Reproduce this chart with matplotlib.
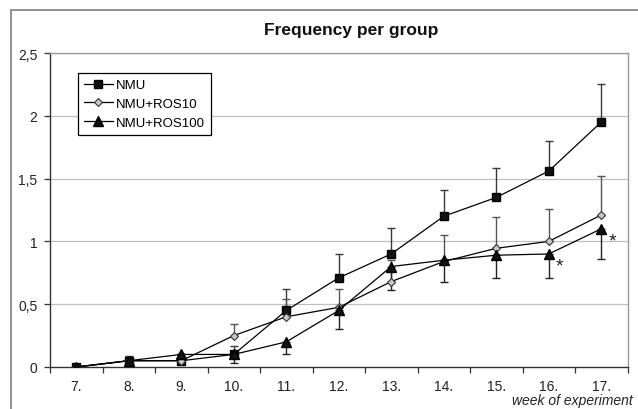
import matplotlib
matplotlib.use("Agg")
import matplotlib.pyplot as plt
from matplotlib.patches import Rectangle

plt.rcParams['font.family'] = ['Liberation Sans', 'DejaVu Sans']

weeks = ["7.", "8.", "9.", "10.", "11.", "12.", "13.", "14.", "15.", "16.", "17."]
nmu = [0.0, 0.05, 0.05, 0.10, 0.45, 0.71, 0.90, 1.20, 1.35, 1.56, 1.95]
ros10 = [0.0, 0.05, 0.05, 0.25, 0.40, 0.475, 0.68, 0.84, 0.945, 1.0, 1.21]
ros100 = [0.0, 0.05, 0.10, 0.10, 0.20, 0.45, 0.80, 0.85, 0.89, 0.90, 1.10]

nmu_err_up = [0.0, 0.035, 0.0, 0.065, 0.17, 0.19, 0.21, 0.21, 0.235, 0.24, 0.30]
ros10_err_up = [0.0, 0.0, 0.0, 0.09, 0.14, 0.15, 0.17, 0.21, 0.25, 0.26, 0.31]
ros100_err_dn = [0.0, 0.035, 0.0, 0.065, 0.10, 0.15, 0.19, 0.17, 0.18, 0.19, 0.24]

star_weeks = [9, 10]  # indices of weeks 16. and 17.
y_ticks = [0, 0.5, 1, 1.5, 2, 2.5]
y_labels = ["0", "0,5", "1", "1,5", "2", "2,5"]

W, H = 638, 410
fig = plt.figure(figsize=(W / 100, H / 100), dpi=100)

# outer chart frame (cropped on right and bottom)
fig.patches.append(Rectangle((11 / W, -0.05), 1.2, 1 - 11 / H + 0.05,
                             transform=fig.transFigure, fill=False,
                             edgecolor='#7f7f7f', linewidth=1.2))

ax = fig.add_axes([50 / W, 42 / H, 577.5 / W, 314 / H])
x = list(range(len(weeks)))

for v in y_ticks[1:]:
    ax.axhline(v, color='#c0c0c0', linewidth=0.9, zorder=0)

zero = [0] * len(weeks)
ax.errorbar(x, nmu, yerr=[zero, nmu_err_up], fmt='none', ecolor='#3a3a3a',
            elinewidth=1.0, capsize=3, capthick=1.0, zorder=2)
ax.errorbar(x, ros10, yerr=[zero, ros10_err_up], fmt='none', ecolor='#555555',
            elinewidth=1.0, capsize=3, capthick=1.0, zorder=2)
ax.errorbar(x, ros100, yerr=[ros100_err_dn, zero], fmt='none', ecolor='#222222',
            elinewidth=1.0, capsize=3, capthick=1.0, zorder=2)

ax.plot(x, nmu, color='black', linewidth=0.9, marker='s', markersize=5.5,
        markerfacecolor='#111111', markeredgecolor='black', label='NMU', zorder=4)
ax.plot(x, ros10, color='black', linewidth=0.9, marker='D', markersize=4.5,
        markerfacecolor='#c8c8c8', markeredgecolor='#333333', markeredgewidth=0.8,
        label='NMU+ROS10', zorder=4)
ax.plot(x, ros100, color='black', linewidth=0.9, marker='^', markersize=6.5,
        markerfacecolor='#111111', markeredgecolor='black', label='NMU+ROS100', zorder=4)

for i in star_weeks:
    ax.annotate('*', (x[i], ros100[i]), xytext=(5, -15), textcoords='offset points',
                fontsize=14, color='#222222', ha='left', va='bottom')

ax.set_xlim(-0.5, len(weeks) - 0.5)
ax.set_ylim(0, 2.5)
ax.set_xticks(x)
ax.set_xticklabels(weeks, fontsize=10, color='#222222')
ax.set_xticks([i - 0.5 for i in range(len(weeks) + 1)], minor=True)
ax.tick_params(axis='x', which='major', length=0, pad=9)
ax.tick_params(axis='x', which='minor', length=4, width=0.9, color='#333333')
ax.set_yticks(y_ticks)
ax.set_yticklabels(y_labels, fontsize=10, color='#222222')
ax.tick_params(axis='y', length=4, width=0.9, color='#333333', pad=5)

for s in ['left', 'bottom']:
    ax.spines[s].set_color('#333333')
    ax.spines[s].set_linewidth(1.0)
for s in ['top', 'right']:
    ax.spines[s].set_color('#9a9a9a')
    ax.spines[s].set_linewidth(1.0)

leg = ax.legend(loc='upper left', bbox_to_anchor=(28 / 577.5, (368 - 74) / 314),
                borderaxespad=0, fontsize=9.5, frameon=True, fancybox=False,
                edgecolor='black', framealpha=1, handlelength=2.2,
                handletextpad=0.2, labelspacing=0.5, borderpad=0.45)
leg.get_frame().set_linewidth(0.9)

fig.text(351 / W, 1 - 30 / H, 'Frequency per group', ha='center', va='center',
         fontsize=12.5, fontweight='bold', color='#111111')
fig.text(633 / W, 1 - 401 / H, 'week of experiment', ha='right', va='center',
         fontsize=10, style='italic', color='#222222')

fig.savefig('out.png', dpi=100)
